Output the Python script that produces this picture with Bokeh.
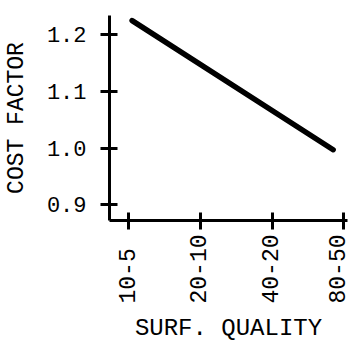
from bokeh.plotting import figure
from bokeh.models import FixedTicker, Range1d
from bokeh.embed import file_html
from bokeh.resources import INLINE
import math

# data
quality_labels = ["10-5", "20-10", "40-20", "80-50"]
quality_pos = [0, 1, 2, 3]
cost_ticks = [0.9, 1.0, 1.1, 1.2]
line_x = [0.05, 2.85]
line_y = [1.225, 0.997]

FONT = "Liberation Mono"

p = figure(frame_width=238, frame_height=205, output_backend="svg", toolbar_location=None,
           x_range=Range1d(-0.265, 3.05), y_range=Range1d(0.872, 1.234),
           min_border_left=94, min_border_right=4, min_border_top=15, min_border_bottom=100)
p.outline_line_color = None
p.xgrid.visible = False
p.ygrid.visible = False
p.background_fill_color = "white"

p.line(line_x, line_y, line_width=5.5, line_color="black", line_cap="round")

for ax in (p.xaxis[0], p.yaxis[0]):
    ax.axis_line_width = 3
    ax.axis_line_color = "black"
    ax.major_tick_line_width = 3
    ax.major_tick_line_color = "black"
    ax.major_tick_in = 8
    ax.major_tick_out = 9
    ax.minor_tick_line_color = None
    ax.major_label_text_font = FONT
    ax.major_label_text_color = "black"
    ax.axis_label_text_font = FONT
    ax.axis_label_text_font_style = "normal"
    ax.axis_label_text_color = "black"

p.xaxis.ticker = FixedTicker(ticks=quality_pos)
labels = [l + "\u00a0" * (5 - len(l)) for l in quality_labels]
p.xaxis.major_label_overrides = {pos: lab for pos, lab in zip(quality_pos, labels)}
p.xaxis.major_label_orientation = math.pi / 2
p.xaxis.major_label_standoff = 5
p.xaxis.major_label_text_font_size = "23px"
p.xaxis.axis_label = "SURF. QUALITY"
p.xaxis.axis_label_standoff = 8
p.xaxis.axis_label_text_font_size = "24px"

p.yaxis.ticker = FixedTicker(ticks=cost_ticks)
p.yaxis.major_label_overrides = {t: f"{t:.1f}" for t in cost_ticks}
p.yaxis.major_label_standoff = 14
p.yaxis.major_label_text_font_size = "22px"
p.yaxis.axis_label = "COST FACTOR"
p.yaxis.axis_label_standoff = 14
p.yaxis.axis_label_text_font_size = "23px"

open("out.html", "w").write(file_html(p, INLINE))
